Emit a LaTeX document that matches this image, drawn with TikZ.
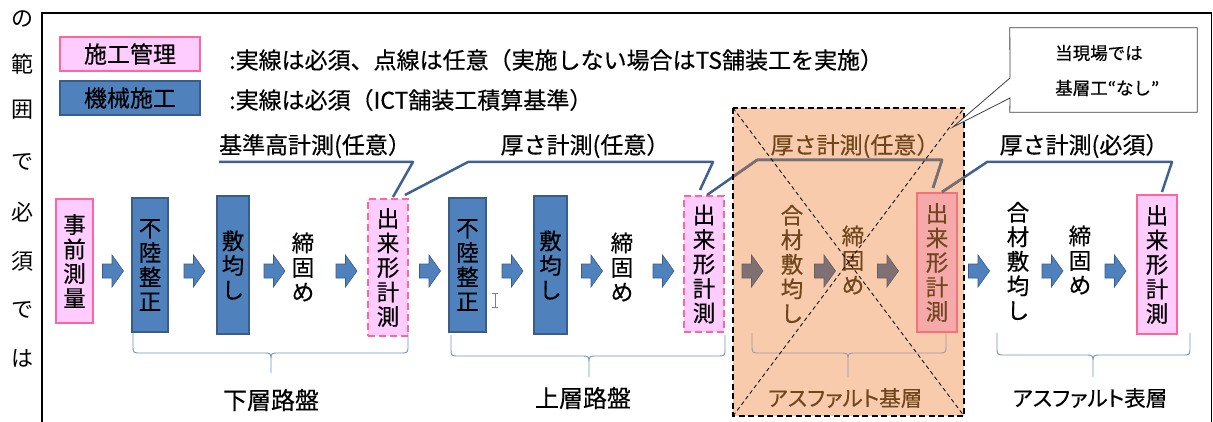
\documentclass[tikz,border=0pt]{standalone}
\usepackage{fontspec}
\setmainfont{Noto Sans CJK JP}[FakeBold=0.45]
\newfontfamily\paltfont{Noto Sans CJK JP}[RawFeature=+palt, FakeBold=0.45]
\newfontfamily\lcfont{Noto Sans CJK JP}
\definecolor{pinkfill}{HTML}{FFCCFF}
\definecolor{pinkdraw}{HTML}{FF6699}
\definecolor{bluefill}{HTML}{4F81BD}
\definecolor{bluedraw}{HTML}{385D8A}
\definecolor{lineblue}{HTML}{3F6190}
\definecolor{braceblue}{HTML}{6E94C8}
\definecolor{orangefill}{HTML}{F8CBAD}
\definecolor{greyarrow}{HTML}{7E7073}
\definecolor{greyarrowd}{HTML}{6A5D60}
\definecolor{browntext}{HTML}{70461E}
\definecolor{salmonfill}{HTML}{F5A9A9}
\definecolor{salmondraw}{HTML}{F7707A}
\definecolor{greybrace}{HTML}{9A9AA8}
\definecolor{greyline}{HTML}{7A6E6E}
\newcommand{\myfs}[1]{\fontsize{#1}{#1}\selectfont}
\newcommand{\mybrace}[7]{%
  \draw[#1] (#2,#4) -- (#2,#5-8) .. controls (#2,#5) .. (#2+8,#5) -- (#6-8,#5)
    .. controls (#6,#5) .. (#6,#5+8) -- (#6,#7) -- (#6,#5+8)
    .. controls (#6,#5) .. (#6+8,#5) -- (#3-8,#5) .. controls (#3,#5) .. (#3,#5-8) -- (#3,#4);}
\tikzset{
  vt/.style={align=center, font=\fontsize{22.5}{24.5}\selectfont, inner sep=0pt, outer sep=0pt},
  pinkbox/.style={vt, draw=pinkdraw, fill=pinkfill, line width=2.5pt},
  pinkdash/.style={vt, draw=pinkdraw, fill=pinkfill, line width=2.5pt, dash pattern=on 7pt off 4pt},
  salmonbox/.style={vt, draw=salmondraw, fill=salmonfill, line width=2.5pt, text=browntext},
  bluebox/.style={vt, draw=bluedraw, fill=bluefill, line width=2pt},
  lbl/.style={font=\myfs{23}, inner sep=0pt},
  lc/.style={font=\lcfont\myfs{22}, inner sep=0pt},
  callout/.style={draw=lineblue, line width=2.5pt, line join=round},
  calloutg/.style={draw=greyline, line width=2.5pt, line join=round},
  pics/barrow/.style={code={\filldraw[fill=bluefill, draw=bluedraw, line width=0.6pt]
    (-10.5,-7) -- (-1,-7) -- (-1,-16) -- (10.5,0) -- (-1,16) -- (-1,7) -- (-10.5,7) -- cycle;}},
  pics/garrow/.style={code={\filldraw[fill=greyarrow, draw=greyarrowd, line width=0.6pt]
    (-10.5,-7) -- (-1,-7) -- (-1,-16) -- (10.5,0) -- (-1,16) -- (-1,7) -- (-10.5,7) -- cycle;}}
}
\begin{document}
\begin{tikzpicture}[x=1pt,y=-1pt]
\useasboundingbox (0,0) rectangle (1213,422);
\fill[white] (0,0) rectangle (1213,422);
% frame
\draw[line width=1.2pt] (42,422) -- (42,13) -- (1211.5,13) -- (1211.5,422);
% left column
\node[lc] (lc1) at (22,19) {の};
\node[lc] (lc2) at (22,64) {範};
\node[lc] (lc3) at (22,110) {囲};
\node[lc] (lc4) at (22,162) {で};
\node[lc] (lc5) at (22,212) {必};
\node[lc] (lc6) at (22,261) {須};
\node[lc] (lc7) at (22,310) {で};
\node[lc] (lc8) at (22,358) {は};
% legend
\node[pinkbox, font=\myfs{23}, minimum width=140pt, minimum height=34pt] (lg1) at (130,54) {施工管理};
\node[bluebox, font=\myfs{23}, minimum width=140pt, minimum height=34pt] (lg2) at (130,98) {機械施工};
\node[lbl, anchor=west] (lt1) at (229,60) {:実線は必須、点線は任意（実施しない場合はTS舗装工を実施）};
\node[lbl, anchor=west] (lt2) at (229,100) {:実線は必須（ICT舗装工積算基準）};
% orange area background
\node[fill=orangefill, inner sep=0pt, outer sep=0pt, minimum width=231pt, minimum height=308pt] (orng) at (848.5,262) {};
% top labels
\node[lbl] (t1) at (315,146) {基準高計測(任意）};
\node[lbl] (t2) at (585,146) {厚さ計測(任意）};
\node[lbl, text=browntext] (t3) at (855,146) {厚さ計測(任意）};
\node[lbl] (t4) at (1084,146) {厚さ計測(必須）};
% section 1
\node[pinkbox, minimum width=37pt, minimum height=124pt] (pre) at (74.5,261) {事\\前\\測\\量};
\node[bluebox, minimum width=36pt, minimum height=134pt] (fr1) at (150,265) {不\\陸\\整\\正};
\node[bluebox, minimum width=32pt, minimum height=138pt] (sk1) at (233,265) {敷\\均\\し};
\node[vt] (sm1) at (303,267) {締\\固\\め};
\node[pinkdash, minimum width=40pt, minimum height=137pt] (dk1) at (388,267.5) {出\\来\\形\\計\\測};
% section 2
\node[bluebox, minimum width=37pt, minimum height=134pt] (fr2) at (467.5,265) {不\\陸\\整\\正};
\node[bluebox, minimum width=33pt, minimum height=138pt] (sk2) at (550.5,265) {敷\\均\\し};
\node[vt] (sm2) at (622,267) {締\\固\\め};
\node[pinkdash, minimum width=40pt, minimum height=136pt] (dk2) at (704,264) {出\\来\\形\\計\\測};
% text cursor mark
\draw[gray, line width=1pt] (495,293) -- (495,307) (492,293) -- (498,293) (492,307) -- (498,307);
% section 3 (orange)
\node[vt, text=browntext] (gz3) at (792,264) {合\\材\\敷\\均\\し};
\node[vt, text=browntext] (sm3) at (853,260) {締\\固\\め};
\node[salmonbox, minimum width=40pt, minimum height=139pt] (dk3) at (937,262.5) {出\\来\\形\\計\\測};
% section 4
\node[vt] (gz4) at (1018,261) {合\\材\\敷\\均\\し};
\node[vt] (sm4) at (1080,260) {締\\固\\め};
\node[pinkbox, minimum width=40pt, minimum height=139pt] (dk4) at (1157,264.5) {出\\来\\形\\計\\測};
% arrows
\pic at (113,271) {barrow};
\pic at (194.5,271) {barrow};
\pic at (274.5,271) {barrow};
\pic at (346.5,271) {barrow};
\pic at (430,271) {barrow};
\pic at (512.5,271) {barrow};
\pic at (592,271) {barrow};
\pic at (663.5,271) {barrow};
\pic at (752.5,271) {garrow};
\pic at (825,271) {garrow};
\pic at (888,271) {garrow};
\pic at (979,271) {barrow};
\pic at (1052.5,271) {barrow};
\pic at (1115.5,271) {barrow};
% braces
\mybrace{draw=braceblue, line width=0.9pt}{133}{408}{333}{353}{271}{373}
\mybrace{draw=braceblue, line width=0.9pt}{451}{725}{335}{356}{589}{377}
\mybrace{draw=greybrace, line width=0.9pt}{752}{946}{333}{353}{848}{377}
\mybrace{draw=braceblue, line width=0.9pt}{997}{1190}{333}{355}{1093}{377}
% bottom labels
\node[lbl, font=\myfs{24}] (g1) at (271,400) {下層路盤};
\node[lbl, font=\myfs{24}] (g2) at (583,398) {上層路盤};
\node[lbl, text=browntext, font=\paltfont\fontsize{21.5}{21.5}\selectfont] (g3) at (845,398) {アスファルト基層};
\node[lbl, font=\paltfont\fontsize{21.5}{21.5}\selectfont] (g4) at (1090,398) {アスファルト表層};
% callout lines
\coordinate (c1a) at (219,162);
\coordinate (c1b) at (413,162);
\coordinate (c1c) at (393,197);
\coordinate (c2a) at (405,195);
\coordinate (c2b) at (468,162);
\coordinate (c2c) at (713,162);
\coordinate (c2d) at (700,190);
\coordinate (c3a) at (707,195);
\coordinate (c3b) at (757,160);
\coordinate (c3c) at (942,160);
\coordinate (c3d) at (933,188);
\coordinate (c4a) at (942,192);
\coordinate (c4b) at (987,162);
\coordinate (c4c) at (1172,162);
\coordinate (c4d) at (1162,192);
\draw[callout] (c1a) -- (c1b) -- (c1c);
\draw[callout] (c2a) -- (c2b) -- (c2c) -- (c2d);
\draw[callout] (c3a) -- (c3b) -- (c3c) -- (c3d);
\draw[callout] (c4a) -- (c4b) -- (c4c) -- (c4d);
\begin{scope}
  \clip (orng.north west) rectangle (orng.south east);
  \draw[calloutg] (c3a) -- (c3b) -- (c3c) -- (c3d);
  \draw[calloutg] (c4a) -- (c4b) -- (c4c) -- (c4d);
\end{scope}
% dashed frame and cross
\draw[line width=2.5pt, dash pattern=on 6pt off 3.5pt] (orng.north west) rectangle (orng.south east);
\draw[line width=0.8pt, dash pattern=on 4pt off 3pt] (orng.north west) -- (orng.south east);
\draw[line width=0.8pt, dash pattern=on 4pt off 3pt] (orng.south west) -- (orng.north east);
% note callout
\path node[minimum width=187pt, minimum height=84pt, inner sep=0pt] (note) at (1103.5,70) {};
\coordinate (w1) at (1010,78);
\coordinate (w2) at (1010,98);
\coordinate (tip) at (953,127);
\filldraw[fill=white, draw=black!75, line width=0.8pt] (note.north west) -- (note.north east) -- (note.south east) -- (note.south west) -- (w2) -- (tip) -- (w1) -- cycle;
\node[anchor=west, inner sep=0pt, font=\myfs{17.5}] (n1) at (1055,53) {当現場では};
\node[anchor=west, inner sep=0pt, font=\myfs{17.5}] (n2) at (1055,88) {基層工“なし”};
\end{tikzpicture}
\end{document}
